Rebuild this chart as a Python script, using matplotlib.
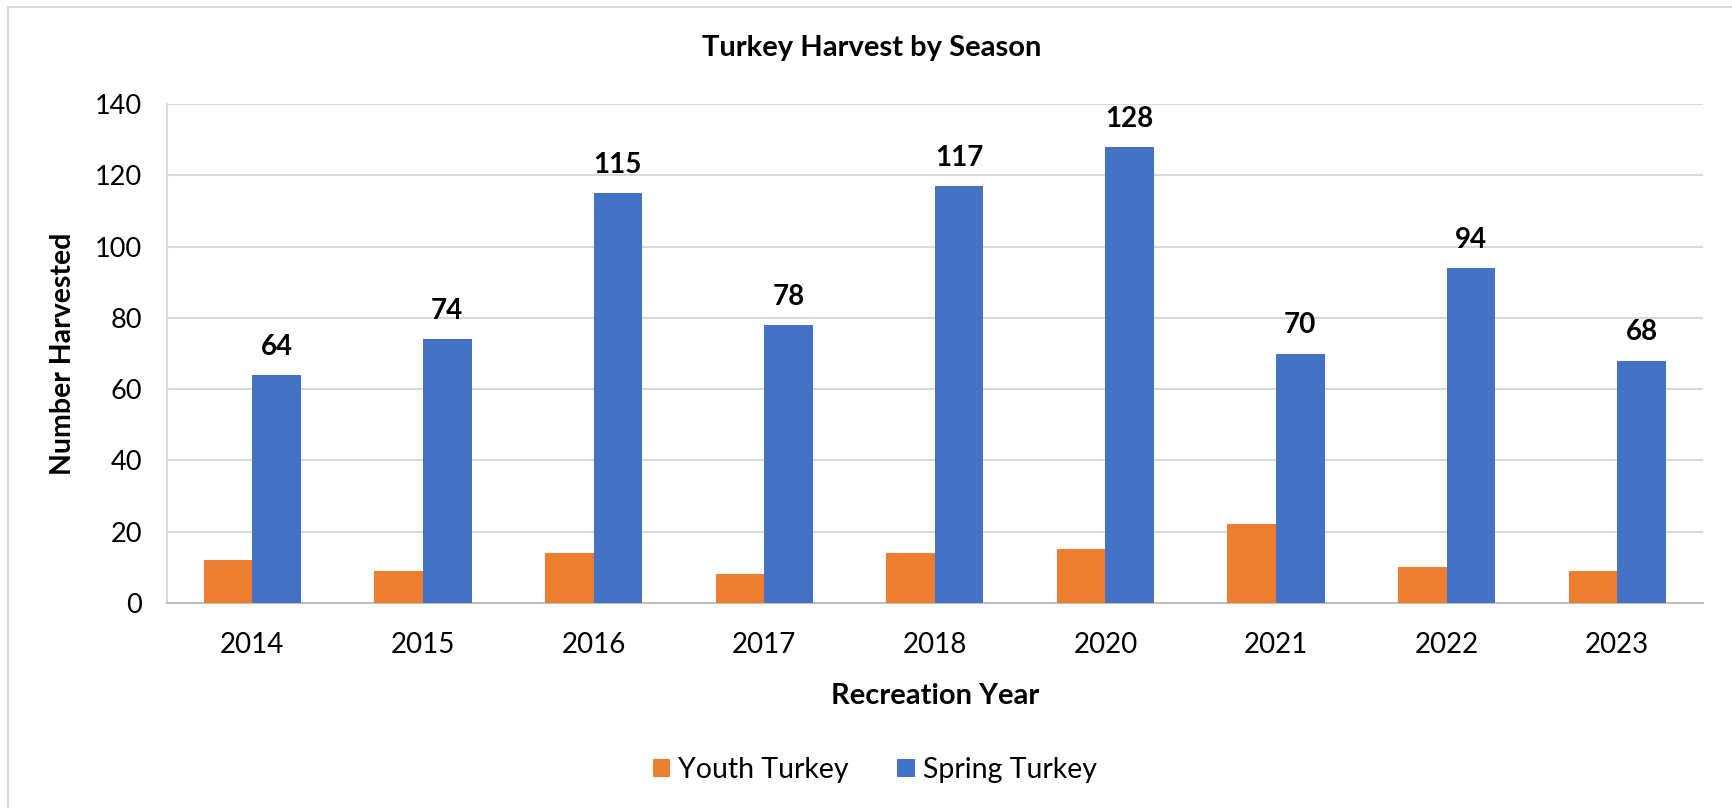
import matplotlib.pyplot as plt
from matplotlib.lines import Line2D
import numpy as np

years = ["2014", "2015", "2016", "2017", "2018", "2020", "2021", "2022", "2023"]
youth = [12, 9, 14, 8, 14, 15, 22, 10, 9]
spring = [64, 74, 115, 78, 117, 128, 70, 94, 68]

ORANGE = "#ED7D31"
BLUE = "#4472C4"
GRID = "#D9D9D9"

plt.rcParams["font.family"] = ["Lato", "DejaVu Sans"]

fig = plt.figure(figsize=(17.32, 8.08), dpi=100)
ax = fig.add_axes([0.0964, 0.254, 0.8866, 0.617])

x = np.arange(len(years))
w = 0.285
ax.bar(x - w / 2, youth, w, color=ORANGE, label="Youth Turkey", zorder=3)
bars = ax.bar(x + w / 2, spring, w, color=BLUE, label="Spring Turkey", zorder=3)

for b, v in zip(bars, spring):
    ax.annotate(f"{v}", (b.get_x() + b.get_width() / 2, v),
                xytext=(0, 11), textcoords="offset points",
                ha="center", va="bottom", fontsize=20, fontweight="bold")

ax.set_xlim(-0.5, len(years) - 0.5)
ax.set_ylim(0, 140)
ax.set_yticks(range(0, 141, 20))
ax.set_xticks(x)
ax.set_xticklabels(years)
ax.tick_params(axis="y", length=0, labelsize=19.5, pad=18)
ax.tick_params(axis="x", length=0, labelsize=20, pad=21)
ax.grid(axis="y", color=GRID, linewidth=1.5, zorder=0)

for s in ["top", "right"]:
    ax.spines[s].set_visible(False)
ax.spines["left"].set_color(GRID)
ax.spines["left"].set_linewidth(1.5)
ax.spines["bottom"].set_color("#BFBFBF")
ax.spines["bottom"].set_linewidth(1.5)

ax.set_xlabel("Recreation Year", fontsize=21, fontweight="bold")
ax.set_ylabel("Number Harvested", fontsize=20.5, fontweight="bold")
ax.xaxis.set_label_coords(0.5, -0.161)
ax.yaxis.set_label_coords(-0.059, 0.5)

fig.text(0.503, 0.94, "Turkey Harvest by Season", ha="center", va="center",
         fontsize=21, fontweight="bold")

fig.legend(loc="center", bbox_to_anchor=(0.505, 0.047), ncol=2, frameon=False,
           fontsize=20.5, handlelength=0.63, handleheight=0.63, columnspacing=1.68,
           handletextpad=0.28)

# light chart border (top and left visible)
fig.add_artist(Line2D([0.0046, 1.0], [0.991, 0.991], color=GRID, lw=1.5,
                      transform=fig.transFigure))
fig.add_artist(Line2D([0.0046, 0.0046], [0.991, 0.0], color=GRID, lw=1.5,
                      transform=fig.transFigure))

fig.savefig("out.png", dpi=100)
